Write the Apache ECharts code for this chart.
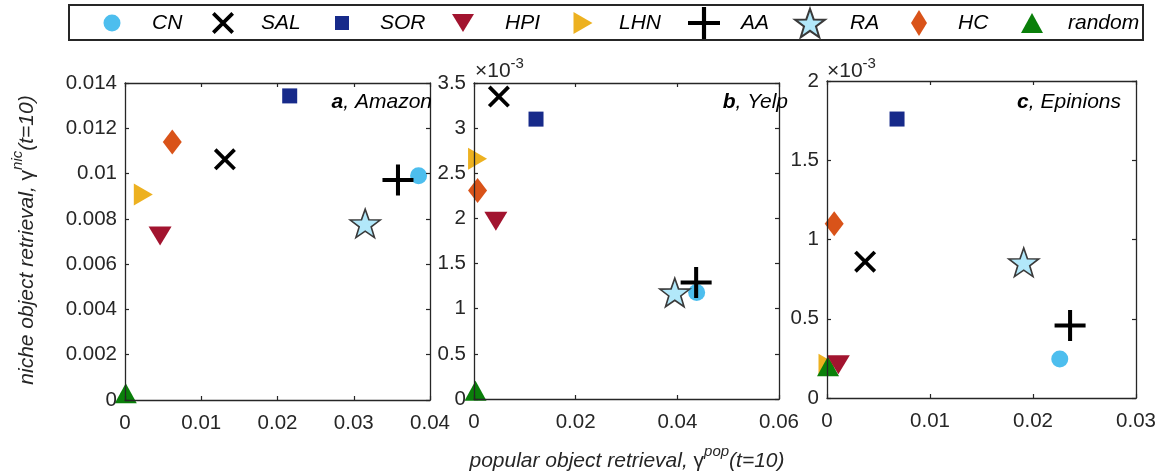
<!DOCTYPE html>
<html>
<head>
<meta charset="utf-8">
<script src="https://cdn.jsdelivr.net/npm/echarts@6/dist/echarts.min.js"></script>
<style>
html,body{margin:0;padding:0;background:#fff;}
#chart{width:1167px;height:474px;}
</style>
</head>
<body>
<div id="chart"></div>
<script>
// ---------------- data ----------------
const methods = ['CN', 'SAL', 'SOR', 'HPI', 'LHN', 'AA', 'RA', 'HC', 'random'];

// panel a, Amazon
const amazonPop   = [0.0385, 0.0131, 0.0216, 0.0046, 0.0024, 0.0358, 0.0315, 0.0062, 0.0001];
const amazonNiche = [0.0099, 0.01063, 0.01343, 0.00724, 0.00908, 0.00972, 0.0078, 0.01139, 0.0003];
// panel b, Yelp
const yelpPop   = [0.0438, 0.0049, 0.0122, 0.0043, 0.0007, 0.0437, 0.0395, 0.0007, 0.0003];
const yelpNiche = [0.00118, 0.00335, 0.00310, 0.00197, 0.00266, 0.00129, 0.00118, 0.00231, 0.00009];
// panel c, Epinions
const epinionsPop   = [0.0226, 0.0037, 0.0068, 0.0011, 0.0001, 0.0236, 0.0191, 0.0007, 0.0001];
const epinionsNiche = [0.000246, 0.00086, 0.00176, 0.00021, 0.00021, 0.000457, 0.000856, 0.0011, 0.0002];

const panelNames = ['Amazon', 'Yelp', 'Epinions'];
const panelLetters = ['a', 'b', 'c'];
const xMax = [0.04, 0.06, 0.03];
const xStep = [0.01, 0.02, 0.01];
const yMax = [0.014, 0.0035, 0.002];
const yStep = [0.002, 0.0005, 0.0005];
const yScaled = [false, true, true]; // x10^-3 labels

// ---------------- styles ----------------
const P_X = 'path://M0,0.12 L0.12,0 L1,0.88 L0.88,1 Z M0.88,0 L1,0.12 L0.12,1 L0,0.88 Z';
const P_PLUS = 'path://M0,0.435 L1,0.435 L1,0.565 L0,0.565 Z M0.435,0 L0.565,0 L0.565,1 L0.435,1 Z';
const P_DOWN = 'path://M0,0 L23,0 L11.5,19 Z';
const P_RIGHT = 'path://M0,0 L19,11 L0,22 Z';
const P_UP = 'path://M11,0 L22,20 L0,20 Z';
const P_DIAMOND = 'path://M8,0 L16,13 L8,26 L0,13 Z';
const P_SQUARE = 'path://M0,0 L1,0 L1,1 L0,1 Z';
const P_STAR = 'path://M50,0 L61.8,33.8 L97.55,34.55 L69,56.3 L79.39,90.45 L50,70 L20.61,90.45 L31,56.3 L2.45,34.55 L38.2,33.8 Z';

const mstyle = {
  CN:     {symbol: 'circle', size: [17, 17], color: '#4DBEEE'},
  SAL:    {symbol: P_X, size: [22, 22], color: '#000000'},
  SOR:    {symbol: P_SQUARE, size: [15, 15], color: '#172A8A'},
  HPI:    {symbol: P_DOWN, size: [23, 19], color: '#A2142F', z: 4},
  LHN:    {symbol: P_RIGHT, size: [19, 22], color: '#EDB120'},
  AA:     {symbol: P_PLUS, size: [31, 31], color: '#000000', z: 3},
  RA:     {symbol: P_STAR, size: [30, 28.5], color: '#B2E8FA', border: '#3A3A3A'},
  HC:     {symbol: P_DIAMOND, size: [19, 25], color: '#D95319'},
  random: {symbol: P_UP, size: [22, 20], color: '#0A7F0A'}
};

const FONT = 'Liberation Sans, Arial, Helvetica, sans-serif';
const AX = '#262626';
const TICK_FS = 20.5;
const TXT_FS = 21;

const pops = [amazonPop, yelpPop, epinionsPop];
const niches = [amazonNiche, yelpNiche, epinionsNiche];

const grids = [
  {left: 125, top: 83, width: 305, height: 317},
  {left: 474, top: 83, width: 305, height: 316},
  {left: 827, top: 81, width: 309, height: 317}
];

function fmt(v) { return String(parseFloat(v.toFixed(6))); }

const xAxes = [], yAxes = [];
for (let p = 0; p < 3; p++) {
  xAxes.push({
    type: 'value', gridIndex: p, position: 'bottom', min: 0, max: xMax[p], interval: xStep[p], z: 5,
    axisLine: {show: true, onZero: false, lineStyle: {color: AX, width: 1.3}},
    axisTick: {show: true, inside: true, length: 4, lineStyle: {color: AX, width: 1.2}},
    axisLabel: {show: true, margin: 13, color: AX, fontSize: TICK_FS, fontFamily: FONT, formatter: fmt},
    splitLine: {show: false}
  });
  yAxes.push({
    type: 'value', gridIndex: p, position: 'left', min: 0, max: yMax[p], interval: yStep[p], z: 5,
    axisLine: {show: true, onZero: false, lineStyle: {color: AX, width: 1.3}},
    axisTick: {show: true, inside: true, length: 4, lineStyle: {color: AX, width: 1.2}},
    axisLabel: {show: true, margin: 8, color: AX, fontSize: TICK_FS, fontFamily: FONT,
      formatter: yScaled[p] ? (v => fmt(v * 1000)) : fmt},
    splitLine: {show: false}
  });
}
for (let p = 0; p < 3; p++) {
  xAxes.push({
    type: 'value', gridIndex: p, position: 'top', min: 0, max: xMax[p], interval: xStep[p], z: 5,
    axisLine: {show: true, onZero: false, lineStyle: {color: AX, width: 1.3}},
    axisTick: {show: true, inside: true, length: 4, lineStyle: {color: AX, width: 1.2}},
    axisLabel: {show: false}, splitLine: {show: false}
  });
  yAxes.push({
    type: 'value', gridIndex: p, position: 'right', min: 0, max: yMax[p], interval: yStep[p], z: 5,
    axisLine: {show: true, onZero: false, lineStyle: {color: AX, width: 1.3}},
    axisTick: {show: true, inside: true, length: 4, lineStyle: {color: AX, width: 1.2}},
    axisLabel: {show: false}, splitLine: {show: false}
  });
}

const series = [];
for (let p = 0; p < 3; p++) {
  methods.forEach((m, i) => {
    const s = mstyle[m];
    series.push({
      type: 'scatter', name: m, xAxisIndex: p, yAxisIndex: p,
      data: [[pops[p][i], niches[p][i]]],
      symbol: s.symbol, symbolSize: s.size, clip: false, z: s.z || 2,
      itemStyle: {color: s.color, opacity: 1,
        borderColor: s.border || s.color, borderWidth: s.border ? 1.6 : 0},
      emphasis: {disabled: true}
    });
  });
}

// legend: one component per item (marker centre, text start)
const legendPos = {
  CN: [112, 152], SAL: [223, 261], SOR: [342, 380], HPI: [463, 505], LHN: [583, 619],
  AA: [704, 741], RA: [809, 849], HC: [919, 958], random: [1032, 1068]
};
const legendW = {CN: 17, SAL: 22, SOR: 14, HPI: 22, LHN: 19, AA: 32, RA: 30, HC: 16, random: 22};
const LEG_H = 32;
const LEG_CY = 23;
const legends = methods.map(m => {
  const [c, t] = legendPos[m];
  const w = legendW[m];
  const pad = t - c - w / 2 - 5;
  return {
    show: true, orient: 'horizontal', padding: 0,
    left: c - w / 2, top: LEG_CY - LEG_H / 2,
    itemWidth: w, itemHeight: LEG_H, selectedMode: false, symbolKeepAspect: true,
    data: [{name: m, icon: mstyle[m].symbol}],
    textStyle: {fontSize: TXT_FS, fontStyle: 'italic', fontFamily: FONT, color: '#000',
      lineHeight: LEG_H, height: LEG_H, padding: [0, 0, 0, pad]}
  };
});

const graphics = [
  {type: 'rect', shape: {x: 69, y: 5, width: 1074, height: 35},
   style: {fill: 'none', stroke: '#262626', lineWidth: 2}, z: 1},
  // x axis name
  {type: 'text', x: 627, y: 458, z: 10,
   style: {text: '{n|popular object retrieval, }{g|γ}{s|pop}{n|(t=10)}', align: 'center', verticalAlign: 'middle',
     fill: AX,
     rich: {
       n: {fontSize: TXT_FS, fontStyle: 'italic', fontFamily: FONT, fill: AX, lineHeight: 28, verticalAlign: 'bottom'},
       g: {fontSize: TXT_FS, fontFamily: FONT, fill: AX, lineHeight: 28, verticalAlign: 'bottom'},
       s: {fontSize: 15, fontStyle: 'italic', fontFamily: FONT, fill: AX, verticalAlign: 'top', lineHeight: 15}
     }}},
  // y axis name
  {type: 'text', x: 24, y: 240, rotation: Math.PI / 2, z: 10,
   style: {text: '{n|niche object retrieval, }{g|γ}{s|nic}{n|(t=10)}', align: 'center', verticalAlign: 'middle',
     fill: AX,
     rich: {
       n: {fontSize: TXT_FS, fontStyle: 'italic', fontFamily: FONT, fill: AX, lineHeight: 28, verticalAlign: 'bottom'},
       g: {fontSize: TXT_FS, fontFamily: FONT, fill: AX, lineHeight: 28, verticalAlign: 'bottom'},
       s: {fontSize: 15, fontStyle: 'italic', fontFamily: FONT, fill: AX, verticalAlign: 'top', lineHeight: 15}
     }}}
];
// panel titles
const titleRight = [432, 788, 1121];
for (let p = 0; p < 3; p++) {
  graphics.push({type: 'text', x: titleRight[p], y: 102, z: 10,
    style: {text: '{b|' + panelLetters[p] + '}{n|, ' + panelNames[p] + '}', align: 'right', verticalAlign: 'middle',
      rich: {
        b: {fontSize: TXT_FS, fontStyle: 'italic', fontWeight: 'bold', fontFamily: FONT, fill: '#000'},
        n: {fontSize: TXT_FS, fontStyle: 'italic', fontFamily: FONT, fill: '#000'}
      }}});
}
// x10^-3 multipliers
[475, 827].forEach(x => {
  graphics.push({type: 'text', x: x, y: 69, z: 10,
    style: {text: '{n|×10}{s|-3}', align: 'left', verticalAlign: 'middle',
      rich: {
        n: {fontSize: TXT_FS, fontFamily: FONT, fill: AX, lineHeight: 26, verticalAlign: 'bottom'},
        s: {fontSize: 15, fontFamily: FONT, fill: AX, verticalAlign: 'top', lineHeight: 15}
      }}});
});

const chart = echarts.init(document.getElementById('chart'), null, {renderer: 'canvas'});
chart.setOption({
  backgroundColor: '#ffffff',
  animation: false,
  grid: grids.map(g => Object.assign({containLabel: false, show: false}, g)),
  xAxis: xAxes,
  yAxis: yAxes,
  legend: legends,
  series: series,
  graphic: graphics
});
</script>
</body>
</html>
